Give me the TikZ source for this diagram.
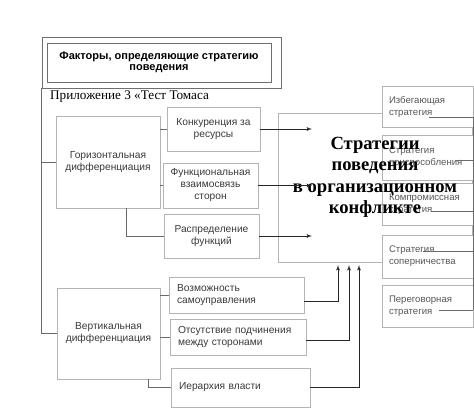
\documentclass[tikz,border=0pt]{standalone}
\usepackage{fontspec}
\setmainfont{Liberation Serif}
\setsansfont{Liberation Sans}
\usepackage{xcolor}
\usepackage{tikz}
\usetikzlibrary{positioning,arrows,calc}
\definecolor{boxgray}{HTML}{B4B4B4}
\definecolor{framegray}{HTML}{6E6E6E}
\definecolor{linegray}{HTML}{6A6A6A}
\definecolor{txtgray}{HTML}{3A3A3A}
\tikzstyle{every node}=[font=\sffamily\fontsize{10.2}{12}\selectfont, text=txtgray]
\tikzstyle{factor}=[rectangle, draw=boxgray, line width=0.8pt, fill=white,
  align=center, inner sep=2pt]
\tikzstyle{cause}=[factor, align=left, inner xsep=8pt]
\tikzstyle{strategy}=[factor, align=left, inner xsep=7pt, text=txtgray!85,
  font=\sffamily\fontsize{9.6}{12}\selectfont]
\tikzstyle{title}=[rectangle, draw=framegray, line width=0.8pt,
  font=\sffamily\bfseries\fontsize{11}{11.5}\selectfont, text=black, align=center]
\tikzstyle{line} = [draw=linegray, line width=0.8pt]
\tikzstyle{arrowline} = [draw=black!85, line width=0.9pt, -latex']
\newcommand{\monte}[3]{
\draw[arrowline] ($(#1.east)+(0,#3)$) -| (#2);
}

\begin{document}
\begin{tikzpicture}[x=1pt, y=-1pt]
    \useasboundingbox (0,0) rectangle (474,408);
    % titre
    \node (cadre) [rectangle, draw=framegray, line width=0.8pt,
          minimum width=239pt, minimum height=51pt] at (161.5,62.5) {};
    \node (titre) [title, minimum width=224pt, minimum height=39pt]
          at (159,62.5) {Факторы, определяющие стратегию\\поведения};
    \node (annexe) [anchor=west, inner sep=0pt, text=black,
          font=\rmfamily\fontsize{13.2}{14}\selectfont]
          at (50,97) {Приложение 3 «Тест Томаса};

    % differenciation horizontale
    \node (gor) [factor, minimum width=104pt, minimum height=92pt]
          at (108,162) {Горизонтальная\\дифференциация};
    \node (konk) [factor, minimum width=93pt, minimum height=44pt]
          at (213.5,129) {Конкуренция за\\ресурсы};
    \node (func) [factor, minimum width=95pt, minimum height=45pt]
          at (210.5,185.5) {Функциональная\\взаимосвязь\\сторон};
    \node (raspr) [factor, minimum width=95pt, minimum height=44pt]
          at (211.5,236) {Распределение\\функций};

    % differenciation verticale
    \node (vert) [factor, minimum width=103pt, minimum height=91pt]
          at (108.5,333.5) {Вертикальная\\дифференциация};
    \node (vozm) [cause, text width=119pt, minimum height=36pt]
          at (236.5,295) {Возможность\\самоуправления};
    \node (otsut) [cause, text width=120pt, minimum height=36pt]
          at (238,337) {Отсутствие подчинения\\между сторонами};
    \node (ierar) [cause, text width=123pt, minimum height=39pt]
          at (240.5,387.5) {Иерархия власти\\[2pt]};

    % strategies
    \node (strat) [factor, minimum width=194pt, minimum height=149pt]
          at (375,187.5) {};
    \node (s1) [strategy, text width=77pt, minimum height=41pt]
          at (427.5,106.5) {Избегающая\\стратегия};
    \node (s2) [strategy, text width=77pt, minimum height=45pt]
          at (427.5,157.5) {Стратегия\\приспособления};
    \node (s3) [strategy, text width=77pt, minimum height=42pt]
          at (427.5,204) {Компромиссная\\стратегия};
    \node (s4) [strategy, text width=77pt, minimum height=43pt]
          at (427.5,256.5) {Стратегия\\соперничества};
    \node (s5) [strategy, text width=77pt, minimum height=42pt]
          at (427.5,306) {Переговорная\\стратегия};
    \node (stratlabel) [align=center, text=black,
          font=\rmfamily\bfseries\fontsize{18.6}{21.5}\selectfont]
          at (375,177.5) {Стратегии\\поведения\\в организационном\\конфликте};

    % liaisons
    \draw[line] (cadre.south west) |- (gor.west);
    \draw[line] (cadre.south west) |- (vert.west);
    \draw[line] (gor.east |- konk.west) -- (konk.west);
    \draw[line] (gor.east |- func.west) -- (func.west);
    \draw[line] ([xshift=18pt]gor.south) |- (raspr.west);
    \draw[line] (vert.east |- vozm.west) -- (vozm.west);
    \draw[line] (vert.east |- otsut.west) -- (otsut.west);
    \draw[line] ([xshift=39.5pt]vert.south) |- (ierar.west);

    \coordinate (tip) at (312,0);
    \draw[arrowline] (konk.east) -- (konk.east -| tip);
    \draw[arrowline] (func.east) -- (func.east -| tip);
    \draw[arrowline] (raspr.east) -- (raspr.east -| tip);

    \coordinate (in1) at (338,265);
    \coordinate (in2) at (349,265);
    \coordinate (in3) at (359,265);
    \monte{vozm}{in1}{6}
    \monte{otsut}{in2}{3}
    \monte{ierar}{in3}{0}

    \draw[line] (s1.east |- 0,117) -- (s5.east |- 0,310);
    \foreach \s/\y/\l in {s1/117/44, s2/160/18, s3/211/42, s4/251/50, s5/310/34}
      \draw[line] (\s.east |- 0,\y) -- ++(-\l,0);
\end{tikzpicture}
\end{document}
